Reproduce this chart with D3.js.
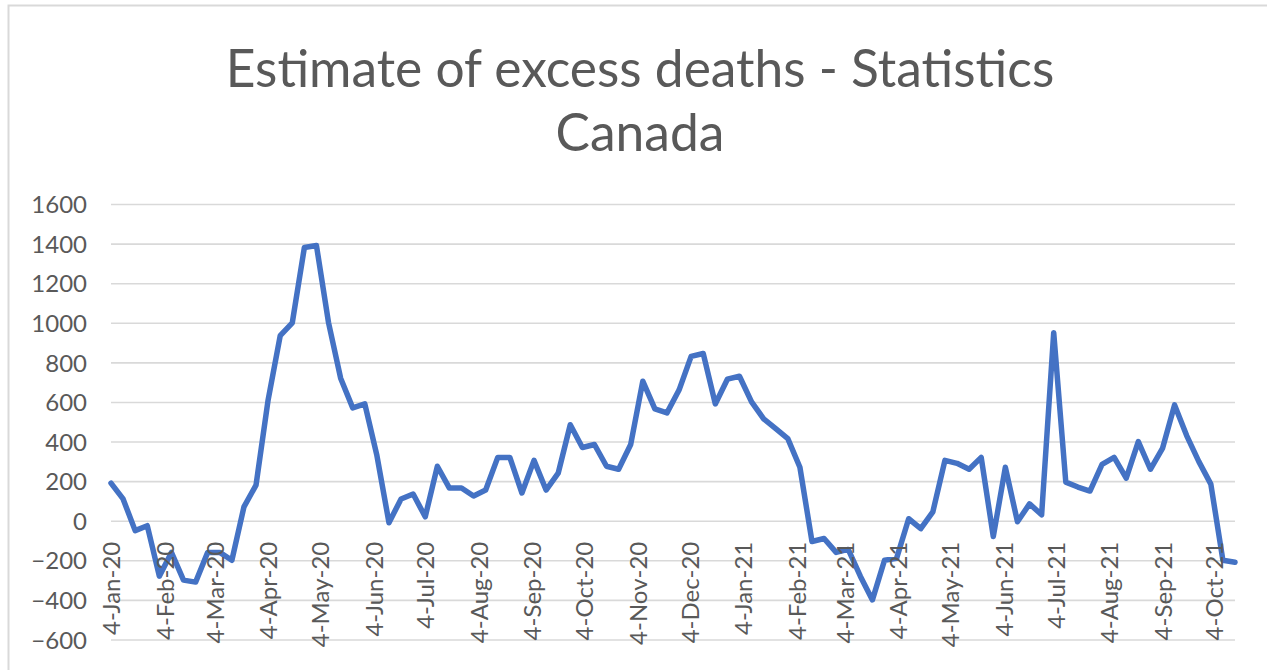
<!DOCTYPE html>
<html>
<head>
<meta charset="utf-8">
<script src="https://cdn.jsdelivr.net/npm/d3@7"></script>
<style>
  html, body { margin: 0; padding: 0; background: #ffffff; }
  svg { display: block; }
</style>
</head>
<body>
<svg id="chart" width="1267" height="670"></svg>
<script>
// ---- data ----
const titleLines = ["Estimate of excess deaths - Statistics", "Canada"];
const firstWeek = "2020-01-04";   // weekly observations, one per week
const excessDeaths = [
  190, 110, -50, -25, -280, -160, -300, -310, -160, -160,
  -200, 70, 180, 610, 935, 1000, 1380, 1390, 1000, 720,
  570, 590, 330, -10, 110, 135, 20, 275, 165, 165,
  125, 155, 320, 320, 140, 305, 155, 240, 485, 370,
  385, 275, 260, 385, 705, 565, 545, 660, 830, 845,
  590, 715, 730, 600, 515, 465, 415, 270, -105, -90,
  -160, -145, -280, -400, -200, -190, 10, -40, 45, 305,
  290, 260, 320, -80, 270, -5, 85, 30, 950, 195,
  170, 150, 285, 320, 215, 400, 260, 365, 585, 430,
  300, 185, -200, -210
];
const yTicks = [-600, -400, -200, 0, 200, 400, 600, 800, 1000, 1200, 1400, 1600];
const monthTickLabels = ["4-Jan-20","4-Feb-20","4-Mar-20","4-Apr-20","4-May-20","4-Jun-20","4-Jul-20","4-Aug-20","4-Sep-20","4-Oct-20","4-Nov-20","4-Dec-20","4-Jan-21","4-Feb-21","4-Mar-21","4-Apr-21","4-May-21","4-Jun-21","4-Jul-21","4-Aug-21","4-Sep-21","4-Oct-21"];

// ---- build ----
const parse = d3.timeParse("%Y-%m-%d");
const start = parse(firstWeek);
const data = excessDeaths.map((v, i) => ({ date: d3.timeDay.offset(start, 7 * i), value: v }));
const tickDates = monthTickLabels.map(s => d3.timeParse("%d-%b-%y")(s));

const svg = d3.select("#chart");
const FONT = "Lato, 'Open Sans', sans-serif";
const TXT = "#595959";

// chart border
svg.append("rect")
  .attr("x", 8.5).attr("y", 5.5)
  .attr("width", 1400).attr("height", 900)
  .attr("fill", "#ffffff")
  .attr("stroke", "#d9d9d9").attr("stroke-width", 2);

const x = d3.scaleTime()
  .domain([data[0].date, data[data.length - 1].date])
  .range([111, 1235]);
const y = d3.scaleLinear()
  .domain([-600, 1600])
  .range([639.5, 204]);

// title
svg.append("g").selectAll("text")
  .data(titleLines).join("text")
  .attr("x", 640)
  .attr("y", (d, i) => 87 + i * 64)
  .attr("text-anchor", "middle")
  .attr("font-family", FONT)
  .attr("font-size", 51.5)
  .attr("fill", TXT)
  .text(d => d);

// gridlines
svg.append("g")
  .attr("transform", "translate(111,0)")
  .call(d3.axisLeft(y).tickValues(yTicks).tickSize(-(1235 - 111)).tickFormat(""))
  .call(g => g.select(".domain").remove())
  .call(g => g.selectAll(".tick line").attr("stroke", "#d9d9d9").attr("stroke-width", 1.6));

// y labels
svg.append("g")
  .attr("transform", "translate(87,0)")
  .call(d3.axisLeft(y).tickValues(yTicks).tickSize(0).tickPadding(0).tickFormat(d3.format("d")))
  .call(g => g.select(".domain").remove())
  .call(g => g.selectAll("text")
    .attr("font-family", FONT).attr("font-size", 24).attr("fill", TXT)
    .attr("dy", "0.36em"));

// line
const line = d3.line().x(d => x(d.date)).y(d => y(d.value));
svg.append("path")
  .datum(data)
  .attr("d", line)
  .attr("fill", "none")
  .attr("stroke", "#4472c4")
  .attr("stroke-width", 5.5)
  .attr("stroke-linejoin", "round")
  .attr("stroke-linecap", "round");

// x labels (rotated, hanging below the zero line)
const xAxis = svg.append("g")
  .attr("transform", `translate(0,${y(0)})`)
  .call(d3.axisBottom(x).tickValues(tickDates).tickSize(0).tickFormat((d, i) => monthTickLabels[i]));
xAxis.select(".domain").remove();
xAxis.selectAll("text")
  .attr("font-family", FONT).attr("font-size", 24).attr("fill", TXT)
  .attr("text-anchor", "end")
  .attr("dy", "0.36em")
  .attr("transform", "translate(0,21) rotate(-90)")
  .attr("x", 0).attr("y", 0);
</script>
</body>
</html>
